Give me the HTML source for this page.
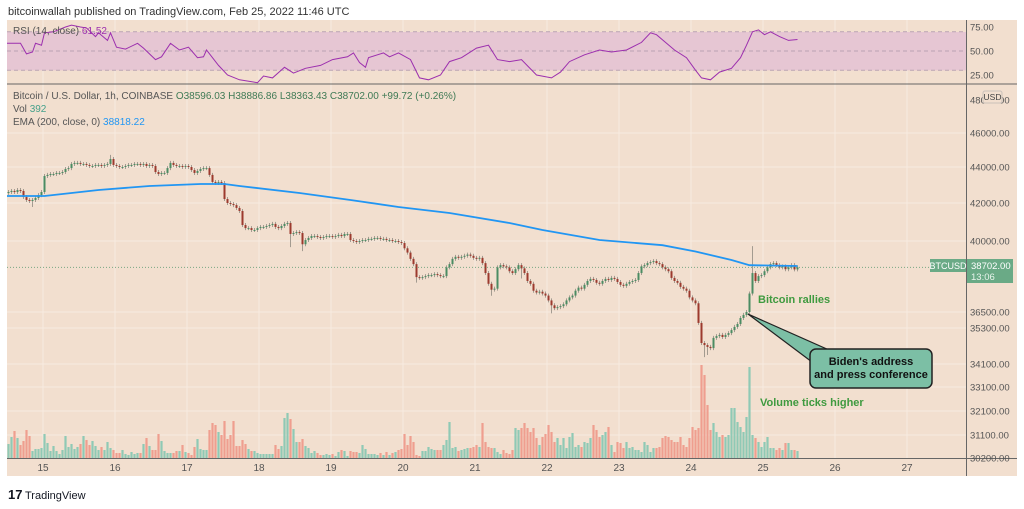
<!DOCTYPE html>
<html><head><meta charset="utf-8">
<style>
html,body{margin:0;padding:0;background:#fff;}
svg{display:block;font-family:"Liberation Sans","DejaVu Sans",sans-serif;}
</style></head>
<body>
<svg id="chart" width="1024" height="509" viewBox="0 0 1024 509" xmlns="http://www.w3.org/2000/svg">
  <rect x="0" y="0" width="1024" height="509" fill="#ffffff"/>
  <text x="8" y="15" font-size="11" fill="#333">bitcoinwallah published on TradingView.com, Feb 25, 2022 11:46 UTC</text>
  <rect x="7" y="20" width="1010" height="456" fill="#f2dfcf"/>
  <g id="grid"></g>
  <rect x="7" y="32" width="959" height="38.4" fill="#e6c6d3"/>
  <g id="rsiGuides"></g>
  <g id="vol"></g>
  <g id="candles"></g>
  <g id="lines"></g>
  <line x1="7" y1="84" x2="1017" y2="84" stroke="#666" stroke-width="1"/>
  <line x1="966.5" y1="20" x2="966.5" y2="476" stroke="#666" stroke-width="1"/>
  <line x1="7" y1="458.5" x2="1017" y2="458.5" stroke="#666" stroke-width="1"/>
  <g id="axes"></g>
  <text x="13" y="34" font-size="10" fill="#555">RSI (14, close) <tspan fill="#9c2fae">61.52</tspan></text>
  <text x="13" y="99" font-size="10" fill="#555">Bitcoin / U.S. Dollar, 1h, COINBASE <tspan fill="#3f7a55">O38596.03 H38886.86 L38363.43 C38702.00 +99.72 (+0.26%)</tspan></text>
  <text x="13" y="112" font-size="10" fill="#555">Vol <tspan fill="#45a08a">392</tspan></text>
  <text x="13" y="125" font-size="10" fill="#555">EMA (200, close, 0) <tspan fill="#2196f3">38818.22</tspan></text>
  <rect x="983" y="91" width="19" height="12" fill="#f2dfcf" stroke="#c9c0ba" rx="2"/>
  <text x="992.5" y="100" font-size="8.5" fill="#444" text-anchor="middle">USD</text>
  <rect x="930" y="259" width="36" height="13" fill="#6aaa86"/>
  <text x="948" y="269" font-size="9" fill="#fff" text-anchor="middle">BTCUSD</text>
  <rect x="967" y="259" width="46" height="24" fill="#6aaa86"/>
  <text x="971" y="269" font-size="9.5" fill="#fff">38702.00</text>
  <text x="971" y="280" font-size="9.5" fill="#e8f4ec">13:06</text>
  <text x="758" y="303" font-size="11" font-weight="bold" fill="#3f9a3f">Bitcoin rallies</text>
  <polygon points="748,314 829,350 812,362" fill="#7cbfa5" stroke="#222" stroke-width="1.2"/>
  <rect x="810" y="349" width="122" height="39" rx="6" fill="#7cbfa5" stroke="#222" stroke-width="1.5"/>
  <text x="871" y="365" font-size="11" font-weight="bold" fill="#111" text-anchor="middle">Biden's address</text>
  <text x="871" y="378" font-size="11" font-weight="bold" fill="#111" text-anchor="middle">and press conference</text>
  <text x="760" y="406" font-size="11" font-weight="bold" fill="#3f9a3f">Volume ticks higher</text>
  <text x="8" y="499" font-size="13" font-weight="bold" fill="#131722">17</text>
  <text x="25" y="499" font-size="11" fill="#131722">TradingView</text>
</svg>
<script>
const closes=[42610,42670,42610,42720,42670,42330,42170,42110,42170,42280,42440,42610,43500,
43560,43610,43610,43670,43670,43720,43890,43940,44180,44240,44240,44180,
44180,44120,44060,44060,44120,44120,44060,44120,44180,44470,44120,
44060,44000,44000,44060,44120,44120,44180,44180,44120,44180,44060,44120,44060,
43720,43610,43670,43670,43940,44240,44120,44060,44060,44000,44060,44000,43830,43670,
43780,43890,43940,43940,43560,43170,43110,43170,43110,42220,42000,41950,41890,41740,41580,
40840,40680,40680,40580,40580,40680,40740,40740,40790,40840,40900,40740,40680,40790,40900,40950,
40370,40420,40470,40420,39840,40050,40160,40260,40260,40210,40160,40210,40260,40260,40210,
40260,40320,40260,40370,40370,40050,40000,39950,40000,40050,40050,40110,40110,40160,40160,40110,
40110,40050,40050,40000,40000,39950,39900,39640,39430,39120,38860,38220,
38180,38220,38270,38320,38320,38370,38320,38270,38270,38700,38860,39120,39220,39170,
39220,39270,39330,39270,39170,39120,39170,38910,38420,37890,37600,37650,38700,
38810,38750,38700,38510,38420,38610,38810,38650,38420,38030,37890,37550,37460,
37500,37410,37310,37070,36830,36690,36740,36790,36880,37070,37220,37310,37550,37700,37650,
37840,38030,38130,38080,37940,37890,38030,38130,38080,38180,38130,37980,37840,37790,37890,
37980,38030,38080,38420,38750,38810,38910,38960,39010,38910,38860,38700,38610,38510,38180,
38030,37940,37740,37650,37550,37220,37070,36930,35680,34800,34730,34670,34630,
34970,35030,35070,35000,35070,35130,35230,35380,35600,36050,36280,36500,37410,38420,
38030,38270,38320,38510,38700,38860,38910,38810,38700,38750,38610,38700,38810,38600,38702];
const firstOpen=42560;
const highIdx=[34,248,161,98,12,72,230];
const highVal=[44710,39750,37900,40000,43560,43000,36950];
const lowIdx=[8,94,98,161,181,232,233,136,171];
const lowVal=[41790,39700,39500,37300,36400,34330,34400,37950,38150];
const volumes=[15,22,28,21,14,18,29,23,8,10,10,11,25,16,8,13,8,5,9,23,12,15,10,12,15,23,19,14,18,13,9,12,9,17,11,9,6,6,9,5,4,7,5,6,6,15,21,13,9,9,25,18,8,6,6,6,8,8,14,7,6,4,12,20,10,9,9,29,36,34,27,24,38,20,24,38,13,13,19,15,10,8,8,6,5,5,5,5,5,14,10,13,41,46,40,30,17,17,20,13,11,6,8,6,4,4,5,4,5,3,7,9,8,3,8,7,7,6,14,10,5,5,5,4,6,4,7,4,6,7,9,10,25,14,23,17,4,3,8,8,12,10,9,9,9,14,19,37,11,12,8,
9,10,11,11,12,14,12,36,17,12,11,11,7,5,9,6,5,9,31,29,31,36,31,27,31,21,14,22,25,34,27,17,21,14,21,11,22,26,12,14,12,17,16,21,34,29,22,24,27,32,14,7,17,16,11,17,11,12,9,9,7,17,14,7,11,11,12,21,23,22,19,17,17,22,14,12,21,32,29,31,94,84,54,29,36,27,22,24,22,24,51,51,37,32,27,42,92,24,21,17,12,17,22,11,11,9,11,9,16,16,9,9,8];
const emaIdx=[0,12,30,47,64,72,77,97,114,130,147,167,178,197,218,229,241,247,263];
const emaVal=[42389,42389,42722,42944,43056,43056,42944,42556,42167,41789,41474,40947,40579,40053,39792,39481,39065,38805,38770];
const rsiIdx=[0,4,6,8,9,11,12,15,19,21,24,26,29,30,33,34,36,39,43,45,49,51,54,57,60,63,65,66,70,73,77,83,85,88,92,95,99,104,108,113,115,117,119,120,125,127,130,134,137,140,144,147,151,156,160,163,167,171,176,181,184,187,192,197,201,206,211,214,216,219,222,226,229,231,234,237,241,244,246,248,250,252,254,257,260,263];
const rsiVal=[58,58,47,49,58,56,69,70,75,77,75,74,65,69,61,69,54,52,58,53,41,44,58,51,54,43,44,51,35,25,20,17,24,22,33,27,32,35,41,44,48,38,33,43,48,44,48,41,22,20,25,39,43,53,56,41,39,41,25,22,28,39,46,51,49,51,59,69,67,59,51,43,30,22,20,28,32,43,56,70,72,67,70,65,61,62];
const priceTicks=[48000,46000,44000,42000,40000,36500,35300,34100,33100,32100,31100,30200];
const priceTickY=[100,133,167,203,241,312,328,364,387,411,435,458];
const dayLabels=["15","16","17","18","19","20","21","22","23","24","25","26","27"];
const dayStartHour=[12,36,60,84,108,132,156,180,204,228,252,276,300];
const rsiTicks=[75,50,25];

const NS="http://www.w3.org/2000/svg";
function mk(tag,attrs,parent){const e=document.createElementNS(NS,tag);for(const k in attrs)e.setAttribute(k,attrs[k]);parent.appendChild(e);return e;}
function xOf(i){return 8.5+3*i;}
function yOf(p){const a=priceTicks,b=priceTickY;
  if(p>=a[0])return b[0]-(p-a[0])*(b[1]-b[0])/(a[0]-a[1]);
  for(let k=0;k<a.length-1;k++){if(p<=a[k]&&p>=a[k+1])return b[k]+(a[k]-p)*(b[k+1]-b[k])/(a[k]-a[k+1]);}
  return b[b.length-1];}
function rsiY(r){return 51-(r-50)*0.96;}
function volY(v){return 459-v;}

const grid=document.getElementById('grid');
dayStartHour.forEach((h,k)=>{const x=xOf(h)-1.5;
  const l=mk('line',{x1:x,y1:20,x2:x,y2:458,stroke:'#f7ebe1','stroke-width':1},grid);
  
  });
priceTickY.forEach((y,k)=>{if(k===0||k===priceTickY.length-1)return;
  const l=mk('line',{x1:7,y1:y,x2:966,y2:y,stroke:'#f7ebe1','stroke-width':1},grid);
  
  });

const rg=document.getElementById('rsiGuides');
[70,50,30].forEach(r=>{const l=mk('line',{x1:7,y1:rsiY(r),x2:966,y2:rsiY(r),stroke:'#b9a3b3','stroke-width':1,'stroke-dasharray':'4 3'},rg);
  
  });

const vg=document.getElementById('vol');
const cg=document.getElementById('candles');
for(let i=0;i<closes.length;i++){
  const o=i===0?firstOpen:closes[i-1], c=closes[i], up=c>=o, x=xOf(i);
  let yt=Math.min(yOf(o),yOf(c)), yb=Math.max(yOf(o),yOf(c));
  let hy=yt-2, ly=yb+2;
  const hi=highIdx.indexOf(i); if(hi>=0)hy=Math.min(hy,yOf(highVal[hi]));
  const li=lowIdx.indexOf(i); if(li>=0)ly=Math.max(ly,yOf(lowVal[li]));
  const w=mk('line',{x1:x,y1:hy,x2:x,y2:ly,stroke:'#8f8a80','stroke-width':0.8},cg);
  
  
  const b=mk('rect',{x:x-1,y:yt,width:2,height:Math.max(1,yb-yt),fill:up?'#4b8c63':'#9c3a2e'},cg);
  
  
  if(i<volumes.length){
    const v=volumes[i];
    const r=mk('rect',{x:x-1.1,y:volY(v),width:2.2,height:459-volY(v),fill:up?'#8fc9b5':'#ef9e8f'},vg);
    
    
  }
}

const lg=document.getElementById('lines');
const lp=mk('line',{x1:7,y1:yOf(closes[closes.length-1]),x2:966,y2:yOf(closes[closes.length-1]),stroke:'#7aa882','stroke-width':1,'stroke-dasharray':'1 2'},lg);


const ema=mk('polyline',{points:emaIdx.map((h,k)=>(h===0?7:xOf(h))+','+yOf(emaVal[k]).toFixed(1)).join(' '),fill:'none',stroke:'#2196f3','stroke-width':1.8},lg);


const rsi=mk('polyline',{points:rsiIdx.map((h,k)=>(h===0?7:xOf(h))+','+rsiY(rsiVal[k]).toFixed(1)).join(' '),fill:'none',stroke:'#9c2fae','stroke-width':1},lg);



const ax=document.getElementById('axes');
priceTicks.forEach((p,k)=>{const t=mk('text',{x:970,y:priceTickY[k]+3.5,'font-size':9.5,fill:'#555'},ax);
  t.textContent=p.toFixed(2);
  
  });
rsiTicks.forEach(r=>{const t=mk('text',{x:970,y:rsiY(r)+3.5,'font-size':9.5,fill:'#555'},ax);
  t.textContent=r.toFixed(2);
  
  });
dayLabels.forEach((d,k)=>{const t=mk('text',{x:xOf(dayStartHour[k])-1.5,y:471,'font-size':10,fill:'#555','text-anchor':'middle'},ax);
  t.textContent=d;
  
  });
</script>
</body></html>
